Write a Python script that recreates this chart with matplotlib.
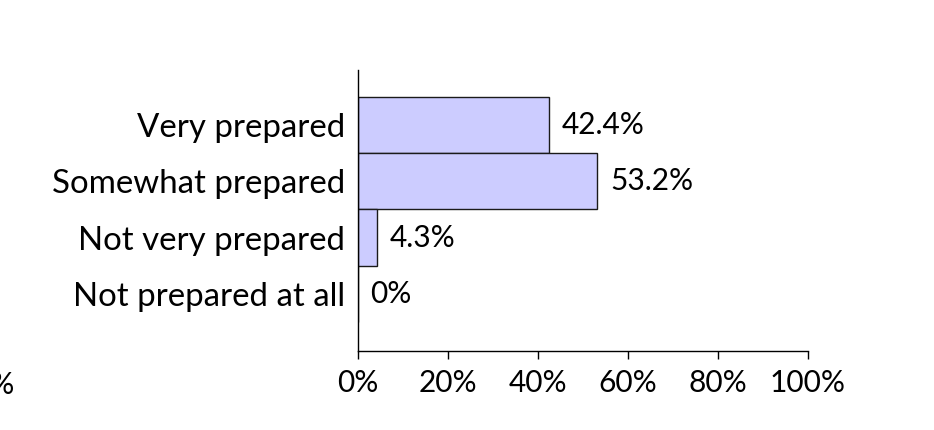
import matplotlib
matplotlib.use('Agg')
import matplotlib.pyplot as plt

categories = ['Very prepared', 'Somewhat prepared', 'Not very prepared', 'Not prepared at all']
values = [42.4, 53.2, 4.3, 0.0]
value_labels = ['42.4%', '53.2%', '4.3%', '0%']
xticks = [0, 20, 40, 60, 80, 100]
xtick_labels = ['0%', '20%', '40%', '60%', '80%', '100%']

plt.rcParams['font.family'] = ['Lato', 'DejaVu Sans']

fig = plt.figure(figsize=(9.34, 4.3), dpi=100)
ax = fig.add_axes([358 / 934, 1 - 351 / 430, 450 / 934, 281 / 430])

pos = list(range(len(categories)))[::-1]
ax.barh(pos, values, height=1.0, color='#ccccff', edgecolor='#1a1a1a', linewidth=1.0)

for p, v, lab in zip(pos, values, value_labels):
    ax.annotate(lab, (v, p), xytext=(9, 0), textcoords='offset points',
                ha='left', va='center', fontsize=21.5)

ax.set_xlim(0, 100)
ax.set_ylim(-1.01, 3.97)
ax.set_yticks(pos)
ax.set_yticklabels(categories, fontsize=23.8)
ax.set_xticks(xticks)
ax.set_xticklabels(xtick_labels, fontsize=21.5)
ax.tick_params(axis='y', length=0, pad=9)
ax.tick_params(axis='x', direction='out', length=6, width=1, pad=7)

for s in ['top', 'right']:
    ax.spines[s].set_visible(False)
for s in ['left', 'bottom']:
    ax.spines[s].set_linewidth(1)

# clipped tick label at the left edge
fig.text(14 / 934, 1 - 385 / 430, '0%', ha='right', va='center', fontsize=21.5)

fig.savefig('out.png', dpi=100)
